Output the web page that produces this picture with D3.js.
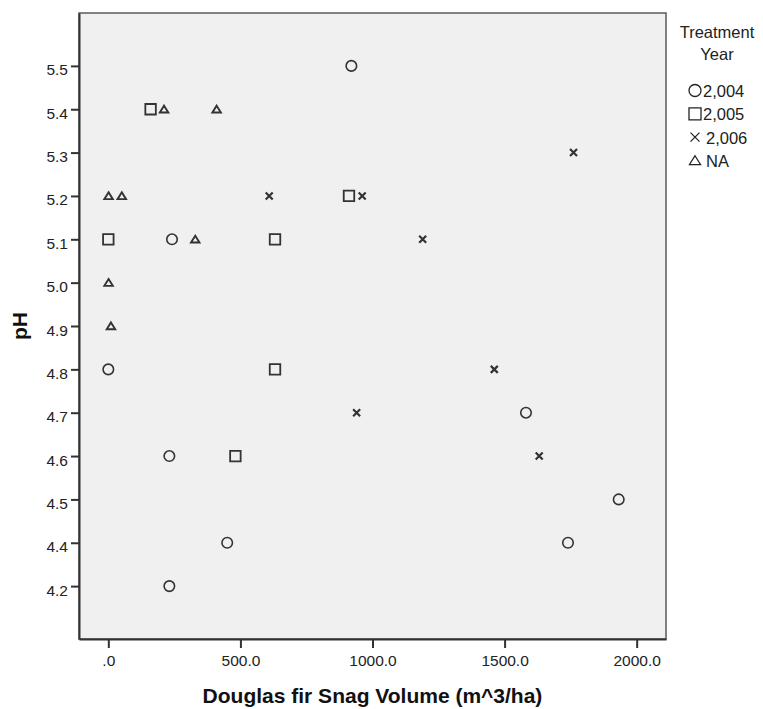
<!DOCTYPE html>
<html>
<head>
<meta charset="utf-8">
<script src="https://cdn.jsdelivr.net/npm/d3@7"></script>
<style>
  html, body { margin: 0; padding: 0; background: #ffffff; }
  svg { display: block; font-family: Arial, "Liberation Sans", sans-serif; }
</style>
</head>
<body>
<svg id="chart" width="763" height="709"></svg>
<script>
// pH categories shown on the vertical axis (categorical, so 4.3 has no slot)
const pHLevels = ["4.2", "4.4", "4.5", "4.6", "4.7", "4.8", "4.9", "5.0", "5.1", "5.2", "5.3", "5.4", "5.5"];
const xTicks = [0, 500, 1000, 1500, 2000];

// Treatment year groups and their legend labels
const groups = ["2004", "2005", "2006", "NA"];
const groupLabels = ["2,004", "2,005", "2,006", "NA"];

// Douglas fir snag volume (m^3/ha) and pH for each group
const vol2004 = [920, 241, 0, 231, 450, 231, 1581, 1932, 1740];
const ph2004  = ["5.5", "5.1", "4.8", "4.6", "4.4", "4.2", "4.7", "4.5", "4.4"];
const vol2005 = [160, 911, 0, 631, 631, 481];
const ph2005  = ["5.4", "5.2", "5.1", "5.1", "4.8", "4.6"];
const vol2006 = [609, 961, 1190, 1761, 940, 1461, 1631];
const ph2006  = ["5.2", "5.2", "5.1", "5.3", "4.7", "4.8", "4.6"];
const volNA   = [211, 410, 1, 51, 329, 1, 10];
const phNA    = ["5.4", "5.4", "5.2", "5.2", "5.1", "5.0", "4.9"];

const seriesVol = [vol2004, vol2005, vol2006, volNA];
const seriesPH  = [ph2004, ph2005, ph2006, phNA];

const points = [];
groups.forEach((g, gi) => {
  seriesVol[gi].forEach((v, i) => points.push({ group: g, vol: v, ph: seriesPH[gi][i] }));
});

const svg = d3.select("#chart");
const plot = { left: 79, right: 666, top: 13, bottom: 639 };
const ink = "#333333";

const x = d3.scaleLinear().domain([-111, 2111]).range([plot.left, plot.right]);
const y = d3.scalePoint().domain(pHLevels).range([plot.bottom, plot.top]).padding(1.22);

// plot background and frame
svg.append("rect")
  .attr("x", plot.left).attr("y", plot.top)
  .attr("width", plot.right - plot.left).attr("height", plot.bottom - plot.top)
  .attr("fill", "#f0f0f0").attr("stroke", "#5a5a5a").attr("stroke-width", 1.5);

// x axis
const xAxis = svg.append("g")
  .attr("transform", `translate(0,${plot.bottom})`)
  .call(d3.axisBottom(x).tickValues(xTicks).tickSize(9).tickSizeOuter(0).tickPadding(4)
    .tickFormat(d => d === 0 ? ".0" : d3.format(".1f")(d)));
xAxis.select(".domain").attr("stroke", ink).attr("stroke-width", 2);
xAxis.selectAll(".tick line").attr("stroke", ink).attr("stroke-width", 2);
xAxis.selectAll(".tick text").attr("fill", "#222").style("font-size", "15.5px")
  .attr("y", 0).attr("dy", "27px");

// y axis
const yAxis = svg.append("g")
  .attr("transform", `translate(${plot.left},0)`)
  .call(d3.axisLeft(y).tickSize(8).tickSizeOuter(0).tickPadding(3));
yAxis.select(".domain").attr("stroke", ink).attr("stroke-width", 2);
yAxis.selectAll(".tick line").attr("stroke", ink).attr("stroke-width", 2);
yAxis.selectAll(".tick text").attr("fill", "#222").style("font-size", "15.5px")
  .attr("x", -11).attr("dy", "9px");

// axis titles
svg.append("text")
  .attr("x", (plot.left + plot.right) / 2).attr("y", 703)
  .attr("text-anchor", "middle")
  .style("font-size", "21px").style("font-weight", "bold").attr("fill", "#111")
  .text("Douglas fir Snag Volume (m^3/ha)");

svg.append("text")
  .attr("transform", `translate(27,${(plot.top + plot.bottom) / 2}) rotate(-90)`)
  .attr("text-anchor", "middle")
  .style("font-size", "21px").style("font-weight", "bold").attr("fill", "#111")
  .text("pH");

// marker shapes, one per treatment year
function markerPath(group, s) {
  const h = s / 2;
  if (group === "2004") {
    const r = h;
    return `M${r},0A${r},${r} 0 1,1 ${-r},0A${r},${r} 0 1,1 ${r},0Z`;
  }
  if (group === "2005") return `M${-h},${-h}H${h}V${h}H${-h}Z`;
  if (group === "2006") return `M${-h},${-h}L${h},${h}M${h},${-h}L${-h},${h}`;
  return `M0,${-h * 0.85}L${h},${h * 0.75}L${-h},${h * 0.75}Z`;
}
const plotSize = { "2004": 10.5, "2005": 10.5, "2006": 7, "NA": 8.5 };
const plotWidth = { "2004": 1.6, "2005": 1.8, "2006": 2.2, "NA": 1.9 };

svg.append("g").selectAll("path")
  .data(points)
  .join("path")
  .attr("transform", d => `translate(${x(d.vol)},${y(d.ph)})`)
  .attr("d", d => markerPath(d.group, plotSize[d.group]))
  .attr("fill", "none")
  .attr("stroke", ink)
  .attr("stroke-width", d => plotWidth[d.group]);

// legend
const legend = svg.append("g");
legend.append("text").attr("x", 717).attr("y", 38).attr("text-anchor", "middle")
  .style("font-size", "16.5px").attr("fill", "#222").text("Treatment");
legend.append("text").attr("x", 717).attr("y", 60).attr("text-anchor", "middle")
  .style("font-size", "16.5px").attr("fill", "#222").text("Year");

const legendSize = { "2004": 12, "2005": 12, "2006": 9, "NA": 11 };
groups.forEach((g, i) => {
  const base = 97 + i * 23.3;
  legend.append("path")
    .attr("transform", `translate(695,${base - 6.5})`)
    .attr("d", markerPath(g, legendSize[g]))
    .attr("fill", "none").attr("stroke", "#222").attr("stroke-width", 1.3);
  legend.append("text")
    .attr("x", g === "2004" || g === "2005" ? 703 : 706).attr("y", base)
    .style("font-size", "16.5px").attr("fill", "#222")
    .text(groupLabels[i]);
});
</script>
</body>
</html>
